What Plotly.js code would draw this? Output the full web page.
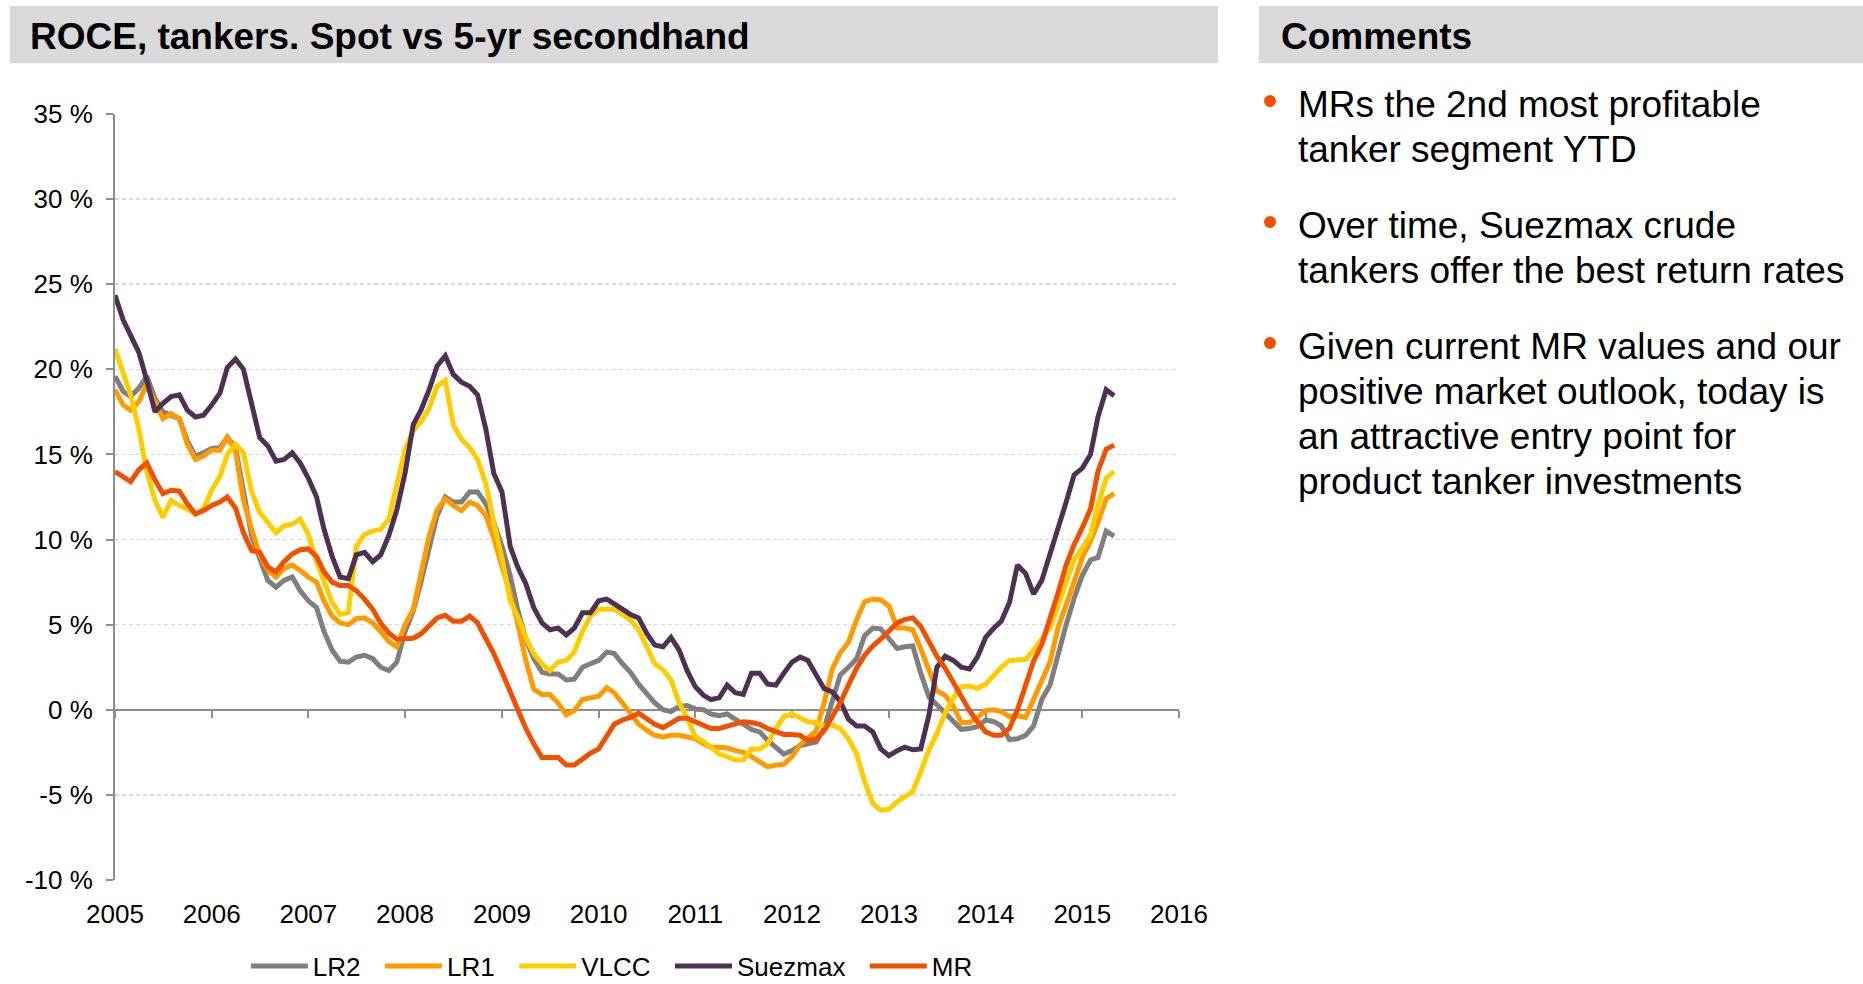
<!DOCTYPE html>
<html>
<head>
<meta charset="utf-8">
<script src="https://cdn.plot.ly/plotly-3.0.1.min.js"></script>
<style>
  html, body { margin:0; padding:0; background:#ffffff; width:1863px; height:984px; overflow:hidden; }
  #chart { position:absolute; left:0; top:0; width:1863px; height:984px; overflow:hidden; }
  .bar { position:absolute; top:6px; height:57px; background:#D9D9D9; }
  .bar span { position:absolute; top:2px; line-height:57px; font-family:'Liberation Sans', Arial, sans-serif; font-weight:bold; font-size:37px; color:#000; white-space:nowrap; }
  .para { position:absolute; left:1298px; font-family:'Liberation Sans', Arial, sans-serif; font-size:37px; line-height:45px; color:#000; white-space:nowrap; }
  .dot { position:absolute; left:1264px; width:12px; height:12px; border-radius:50%; background:#F05000; }
</style>
</head>
<body>
<div id="chart"></div>
<div class="bar" style="left:10px; width:1208px;"><span style="left:20px;">ROCE, tankers. Spot vs 5-yr secondhand</span></div>
<div class="bar" style="left:1259px; width:604px;"><span style="left:22px;">Comments</span></div>
<div class="dot" style="top:95px;"></div>
<div class="para" style="top:82px;">MRs the 2nd most profitable<br>tanker segment YTD</div>
<div class="dot" style="top:216px;"></div>
<div class="para" style="top:203px;">Over time, Suezmax crude<br>tankers offer the best return rates</div>
<div class="dot" style="top:337px;"></div>
<div class="para" style="top:324px;">Given current MR values and our<br>positive market outlook, today is<br>an attractive entry point for<br>product tanker investments</div>
<script>
// Monthly observations, Jan 2005 – May 2015
const months = [];
for (let y = 2005; y <= 2015; y++) {
  for (let m = 1; m <= 12; m++) {
    if (months.length < 125) months.push(y + '-' + String(m).padStart(2, '0') + '-01');
  }
}

const LR2 = [
  19.6, 18.7, 18.4, 18.9, 19.6, 18.3, 17.5, 17.3, 17.1, 15.8, 14.9, 15.1,
  15.35, 15.4, 16.0, 15.4, 12.7, 10.2, 8.9, 7.6, 7.2, 7.6, 7.8, 7.0,
  6.4, 6.0, 4.6, 3.5, 2.85, 2.8, 3.1, 3.2, 3.0, 2.5, 2.3, 2.8,
  4.6, 5.8, 7.5, 9.5, 11.4, 12.5, 12.2, 12.2, 12.8, 12.8, 12.1, 11.0,
  9.6, 7.9, 5.9, 4.15, 3.0, 2.2, 2.1, 2.1, 1.75, 1.8, 2.5, 2.7,
  2.9, 3.4, 3.3, 2.7, 2.2, 1.5, 1.0, 0.4, 0.0, -0.1, 0.2, 0.25,
  0.05, 0.0, -0.25, -0.35, -0.25, -0.6, -0.85, -1.15, -1.3, -1.8, -2.25, -2.6,
  -2.4, -2.1, -2.0, -1.9, -1.1, 0.6, 2.05, 2.5, 3.0, 4.35, 4.8, 4.75,
  4.15, 3.6, 3.7, 3.75, 2.15, 0.75, 0.3, -0.2, -0.65, -1.15, -1.1, -1.0,
  -0.6, -0.7, -0.95, -1.75, -1.7, -1.5, -0.95, 0.6, 1.45, 3.3, 5.0, 6.55,
  7.9, 8.8, 8.95, 10.5, 10.2
];

const LR1 = [
  18.8, 17.9, 17.6, 18.1, 19.1, 18.1, 17.1, 17.4, 17.1, 15.6, 14.7, 14.9,
  15.25, 15.25, 16.0, 15.2, 12.3, 10.6, 9.1, 8.2, 7.8, 8.3, 8.5, 8.2,
  7.8, 7.5, 6.4, 5.5, 5.1, 5.0, 5.35, 5.4, 5.1, 4.6, 4.0, 3.7,
  5.0, 5.9, 7.9, 10.2, 11.75, 12.4, 12.0, 11.7, 12.2, 12.0, 11.4, 10.1,
  8.4, 6.85, 5.1, 2.9, 1.2, 0.9, 0.9, 0.4, -0.3, -0.05, 0.6, 0.7,
  0.8, 1.3, 1.0, 0.4, -0.2, -0.85, -1.2, -1.5, -1.6, -1.5, -1.5, -1.6,
  -1.7, -2.0, -2.2, -2.2, -2.25, -2.4, -2.5, -2.75, -3.05, -3.35, -3.25, -3.2,
  -2.75, -2.05, -1.65, -1.25, 0.4, 2.4, 3.35, 3.95, 5.3, 6.35, 6.5, 6.45,
  6.1, 4.8, 4.8, 4.7, 3.6, 2.3, 1.1, 0.85, 0.2, -0.75, -0.75, -0.45,
  -0.05, 0.0, -0.1, -0.4, -0.35, -0.45, 0.6, 1.65, 2.8, 4.8, 6.1, 7.5,
  8.95, 9.9, 11.0, 12.4, 12.7
];

const VLCC = [
  21.2, 19.8, 18.5, 16.5, 14.0, 12.3, 11.3, 12.3, 12.0, 11.8, 11.5, 11.8,
  12.9, 13.7, 15.0, 15.6, 15.1, 12.8, 11.6, 11.0, 10.4, 10.8, 10.9, 11.2,
  10.3, 8.7, 7.5, 6.3, 5.6, 5.7, 9.6, 10.3, 10.5, 10.6, 11.2, 13.3,
  15.3, 16.4, 16.9, 17.7, 19.0, 19.35, 16.75, 15.9, 15.4, 14.7, 13.3, 11.0,
  8.9, 6.4, 5.5, 4.25, 3.3, 2.7, 2.3, 2.8, 2.9, 3.4, 4.6, 5.5,
  5.9, 5.9, 5.9, 5.6, 5.3, 4.7, 3.7, 2.7, 2.35, 1.75, 0.4, -0.45,
  -1.6, -1.85, -2.2, -2.6, -2.75, -2.95, -2.95, -2.3, -2.3, -2.0, -1.1, -0.4,
  -0.25, -0.45, -0.7, -0.75, -0.95, -0.9, -1.1, -1.7, -2.6, -4.2, -5.5, -5.9,
  -5.85, -5.4, -5.1, -4.8, -3.65, -2.35, -1.4, -0.2, 0.7, 1.35, 1.4, 1.25,
  1.5, 2.05, 2.5, 2.9, 2.9, 2.95, 3.5, 4.15, 4.8, 6.1, 7.5, 8.8,
  9.5, 10.3, 12.0, 13.6, 14.0
];

const Suezmax = [
  24.35, 22.9, 22.0, 21.0, 19.35, 17.5, 18.0, 18.4, 18.5, 17.6, 17.2, 17.3,
  17.9, 18.6, 20.1, 20.6, 20.0, 18.0, 16.0, 15.5, 14.6, 14.7, 15.1, 14.5,
  13.6, 12.5, 10.6, 9.0, 7.8, 7.7, 9.1, 9.25, 8.7, 9.1, 10.25, 11.75,
  13.9, 16.75, 17.6, 18.8, 20.2, 20.8, 19.7, 19.25, 19.0, 18.5, 16.5, 13.9,
  12.8, 9.6, 8.4, 7.4, 6.0, 5.1, 4.7, 4.8, 4.4, 4.8, 5.7, 5.7,
  6.4, 6.5, 6.2, 5.9, 5.6, 5.4, 4.5, 3.8, 3.7, 4.25, 3.5, 2.3,
  1.35, 0.85, 0.6, 0.7, 1.45, 1.0, 0.9, 2.15, 2.15, 1.5, 1.45, 2.15,
  2.8, 3.1, 2.9, 2.05, 1.25, 1.05, 0.5, -0.55, -0.95, -0.95, -1.3, -2.3,
  -2.7, -2.4, -2.2, -2.35, -2.3, -0.3, 2.5, 3.15, 2.9, 2.5, 2.4, 3.1,
  4.25, 4.8, 5.2, 6.3, 8.5, 8.0, 6.8, 7.6, 9.1, 10.6, 12.2, 13.8,
  14.2, 15.0, 17.2, 18.8, 18.45
];

const MR = [
  14.0, 13.7, 13.4, 14.1, 14.5, 13.5, 12.7, 12.9, 12.85, 12.1, 11.5, 11.7,
  12.0, 12.2, 12.5, 11.85, 10.4, 9.35, 9.25, 8.4, 8.1, 8.7, 9.15, 9.4,
  9.45, 9.0, 8.1, 7.5, 7.3, 7.3, 7.0, 6.5, 5.9, 5.1, 4.5, 4.15,
  4.15, 4.2, 4.45, 4.9, 5.4, 5.55, 5.2, 5.2, 5.5, 5.1, 4.25, 3.3,
  2.2, 1.0, 0.0, -1.1, -2.0, -2.8, -2.8, -2.8, -3.25, -3.25, -2.9, -2.55,
  -2.3, -1.5, -0.85, -0.6, -0.45, -0.2, -0.5, -0.85, -1.05, -0.75, -0.5, -0.5,
  -0.7, -0.95, -1.1, -1.1, -0.95, -0.85, -0.7, -0.75, -0.85, -1.1, -1.3, -1.45,
  -1.45, -1.5, -1.8, -1.7, -1.25, -0.45, 0.4, 1.45, 2.45, 3.2, 3.75, 4.15,
  4.65, 5.1, 5.3, 5.4, 4.9, 3.95, 3.15, 2.45, 1.6, 0.8, -0.05, -0.7,
  -1.3, -1.5, -1.5, -1.1, 0.0, 1.45, 2.85, 3.85, 5.3, 6.85, 8.5, 9.7,
  10.7, 11.8, 14.0, 15.3, 15.55
];

const seriesNames = ['LR2', 'LR1', 'VLCC', 'Suezmax', 'MR'];
const seriesColors = ['#7F7F7F', '#FF9A00', '#FFCC00', '#4E3152', '#F05000'];
const seriesValues = [LR2, LR1, VLCC, Suezmax, MR];

const yearTickVals = ['2005-01-01','2006-01-01','2007-01-01','2008-01-01','2009-01-01','2010-01-01',
                      '2011-01-01','2012-01-01','2013-01-01','2014-01-01','2015-01-01','2016-01-01'];
const yearTickText = ['2005','2006','2007','2008','2009','2010','2011','2012','2013','2014','2015','2016'];
const yTickVals = [-10, -5, 0, 5, 10, 15, 20, 25, 30, 35];
const yTickText = ['-10 %', '-5 %', '0 %', '5 %', '10 %', '15 %', '20 %', '25 %', '30 %', '35 %'];

const FONT = 'Liberation Sans, Arial, sans-serif';
const LEGEND_PAD = '\u00a0\u00a0';

const traces = seriesNames.map((name, i) => ({
  type: 'scatter', mode: 'lines',
  name: i < seriesNames.length - 1 ? name + LEGEND_PAD : name,
  x: months, y: seriesValues[i],
  line: { color: seriesColors[i], width: 5 },
  hoverinfo: 'skip'
}));

// helper trace to carry the zero-line axis with its ticks
traces.push({
  type: 'scatter', mode: 'none', x: months, y: MR, xaxis: 'x2', yaxis: 'y',
  showlegend: false, hoverinfo: 'skip'
});

const xRange = ['2005-01-01', '2016-01-01'];

const layout = {
  width: 1863, height: 1010,
  margin: { l: 115, r: 684, t: 114, b: 130, pad: 0 },
  paper_bgcolor: 'rgba(0,0,0,0)', plot_bgcolor: 'rgba(0,0,0,0)',
  font: { family: FONT, size: 26, color: '#000000' },
  showlegend: true,
  legend: {
    orientation: 'h', x: 0.123, xanchor: 'left', y: -0.1123, yanchor: 'middle',
    font: { family: FONT, size: 26, color: '#000000' },
    itemwidth: 57, bgcolor: 'rgba(0,0,0,0)', borderwidth: 0
  },
  xaxis: {
    type: 'date', range: xRange, tickmode: 'array', tickvals: yearTickVals, ticktext: yearTickText,
    ticks: '', showgrid: false, zeroline: false, showline: false,
    ticklabelstandoff: 16, tickfont: { family: FONT, size: 26, color: '#000000' }, fixedrange: true
  },
  xaxis2: {
    type: 'date', overlaying: 'x', anchor: 'free', position: 10 / 45, range: xRange,
    tickmode: 'array', tickvals: yearTickVals, showticklabels: false,
    ticks: 'outside', ticklen: 7, tickwidth: 2, tickcolor: '#8C8C8C',
    showline: true, linecolor: '#8C8C8C', linewidth: 2, showgrid: false, zeroline: false,
    layer: 'below traces', fixedrange: true
  },
  yaxis: {
    range: [-10, 35], tickmode: 'array', tickvals: yTickVals, ticktext: yTickText,
    ticks: 'outside', ticklen: 7, tickwidth: 2, tickcolor: '#8C8C8C',
    showline: true, linecolor: '#8C8C8C', linewidth: 2,
    showgrid: true, gridcolor: '#D9D9D9', gridwidth: 1.5, griddash: '4px,3px',
    zeroline: false, layer: 'below traces', ticklabelstandoff: 8,
    tickfont: { family: FONT, size: 26, color: '#000000' }, fixedrange: true
  }
};

Plotly.newPlot('chart', traces, layout, { staticPlot: true, displayModeBar: false });
</script>
</body>
</html>
